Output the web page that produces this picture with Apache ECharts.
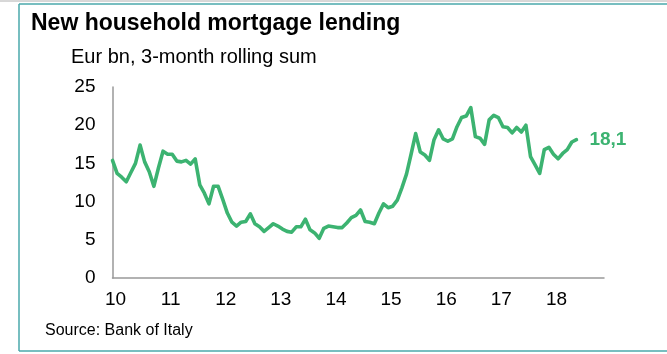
<!DOCTYPE html>
<html>
<head>
<meta charset="utf-8">
<script src="https://cdn.jsdelivr.net/npm/echarts@6/dist/echarts.min.js"></script>
<style>
  html, body { margin: 0; padding: 0; background: #ffffff; }
  #chart { width: 667px; height: 354px; }
</style>
</head>
<body>
<div id="chart"></div>
<script>
// Monthly axis: Jan 2010 - Dec 2018
const years = [2010, 2011, 2012, 2013, 2014, 2015, 2016, 2017, 2018];
const months = [];
years.forEach(y => { for (let m = 1; m <= 12; m++) months.push(y + '-' + String(m).padStart(2, '0')); });

// New household mortgage lending, Eur bn, 3-month rolling sum (Jan 2010 - Jun 2018)
const lending = [
  15.4, 13.7, 13.2, 12.6, 13.8, 15.0, 17.4, 15.2, 13.9, 12.0, 14.4, 16.6,
  16.2, 16.2, 15.3, 15.2, 15.4, 14.9, 15.6, 12.2, 11.1, 9.7, 12.0, 12.0,
  10.3, 8.5, 7.3, 6.8, 7.3, 7.4, 8.4, 7.1, 6.7, 6.1, 6.6, 7.1,
  6.8, 6.4, 6.1, 6.0, 6.7, 6.7, 7.7, 6.3, 5.9, 5.2, 6.5, 6.8,
  6.7, 6.6, 6.6, 7.2, 7.9, 8.2, 8.9, 7.4, 7.3, 7.1, 8.5, 9.7,
  9.2, 9.4, 10.2, 11.8, 13.6, 16.2, 18.9, 16.5, 16.1, 15.4, 18.1, 19.4,
  18.2, 17.9, 18.2, 19.8, 21.0, 21.2, 22.3, 18.5, 18.3, 17.5, 20.7, 21.3,
  21.0, 19.8, 19.7, 19.0, 19.7, 19.1, 20.0, 15.9, 14.8, 13.7, 16.8, 17.1,
  16.2, 15.6, 16.3, 16.8, 17.8, 18.1
];

const yTicks = [0, 5, 10, 15, 20, 25];

const GREEN = '#3cb371';
const FONT = "'Liberation Sans', Arial, sans-serif";

const chart = echarts.init(document.getElementById('chart'), null, { renderer: 'canvas' });

chart.setOption({
  animation: false,
  backgroundColor: '#ffffff',
  textStyle: { fontFamily: FONT },
  title: [
    {
      text: 'New household mortgage lending',
      left: 26, top: 7,
      textStyle: { fontFamily: FONT, fontSize: 23, fontWeight: 'bold', color: '#000' }
    },
    {
      text: 'Eur bn, 3-month rolling sum',
      left: 66, top: 42,
      textStyle: { fontFamily: FONT, fontSize: 20, fontWeight: 'normal', color: '#000' }
    },
    {
      text: 'Source: Bank of Italy',
      left: 40, top: 318,
      textStyle: { fontFamily: FONT, fontSize: 16, fontWeight: 'normal', color: '#000' }
    }
  ],
  graphic: [
    { type: 'line', shape: { x1: 0, y1: 1, x2: 667, y2: 1 }, style: { stroke: '#b0b0b0', lineWidth: 1 } },
    { type: 'line', shape: { x1: 19, y1: 4, x2: 667, y2: 4 }, style: { stroke: '#4aa9ab', lineWidth: 1.5 } },
    { type: 'line', shape: { x1: 19, y1: 4, x2: 19, y2: 351 }, style: { stroke: '#4aa9ab', lineWidth: 1.5 } },
    { type: 'line', shape: { x1: 19, y1: 351, x2: 667, y2: 351 }, style: { stroke: '#4aa9ab', lineWidth: 1.5 } }
  ],
  grid: { left: 112.5, right: 63, top: 87, bottom: 76, containLabel: false },
  xAxis: {
    type: 'category',
    data: months,
    boundaryGap: false,
    axisLine: { show: true, lineStyle: { color: '#999999', width: 1.5 } },
    axisTick: { show: false },
    splitLine: { show: false },
    axisLabel: {
      interval: i => i % 12 === 0,
      formatter: v => v.slice(2, 4),
      margin: 12,
      padding: [0, 0, 0, 6],
      fontFamily: FONT,
      fontSize: 19,
      color: '#000'
    }
  },
  yAxis: {
    type: 'value',
    min: 0,
    max: 25,
    interval: 5,
    axisLine: { show: true, lineStyle: { color: '#999999', width: 1.5 } },
    axisTick: { show: false },
    splitLine: { show: false },
    axisLabel: {
      margin: 17,
      fontFamily: FONT,
      fontSize: 19,
      color: '#000',
      formatter: v => (yTicks.includes(v) ? String(v) : '')
    }
  },
  series: [
    {
      type: 'line',
      data: lending,
      showSymbol: false,
      symbol: 'none',
      lineStyle: { color: GREEN, width: 3.6, join: 'round', cap: 'round' },
      itemStyle: { color: GREEN },
      endLabel: {
        show: true,
        distance: 13,
        formatter: p => p.value.toFixed(1).replace('.', ','),
        fontFamily: FONT,
        fontSize: 19,
        fontWeight: 'bold',
        color: GREEN
      }
    }
  ]
});
</script>
</body>
</html>
